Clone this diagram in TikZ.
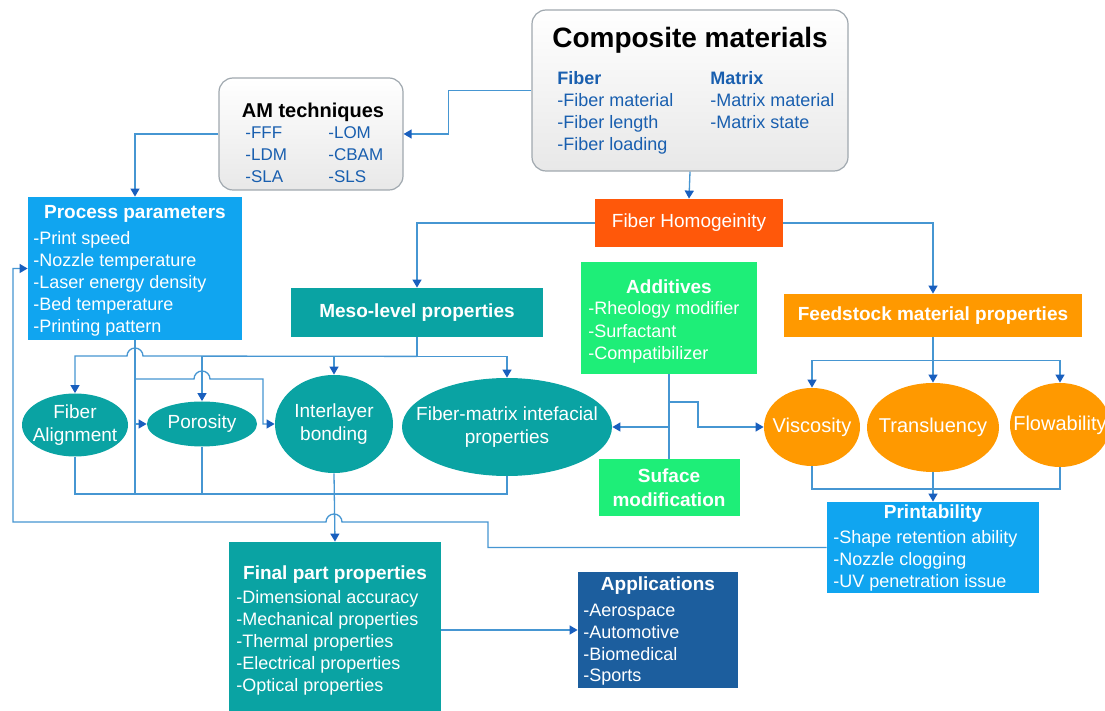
\documentclass[tikz,border=0pt]{standalone}
\usepackage{fontspec}
\setmainfont{Liberation Sans}
\usepackage{xcolor}
\usepackage{tikz}
\usetikzlibrary{arrows.meta,calc,shapes.geometric,positioning}
\definecolor{procblue}{RGB}{16,165,240}
\definecolor{mesoteal}{RGB}{10,163,163}
\definecolor{addgreen}{RGB}{30,238,120}
\definecolor{feedorange}{RGB}{255,153,0}
\definecolor{fhred}{RGB}{255,88,10}
\definecolor{appblue}{RGB}{28,94,158}
\definecolor{linecol}{RGB}{70,150,210}
\definecolor{tipcol}{RGB}{25,95,190}
\definecolor{itemblue}{RGB}{25,95,175}
\definecolor{boxgray}{RGB}{160,168,175}
\tikzstyle{conn}=[draw=linecol,line width=0.65pt]
\tikzstyle{box}=[rectangle,draw=none,inner sep=0pt]
\tikzstyle{graybox}=[rectangle,rounded corners=7pt,draw=boxgray,line width=0.6pt,top color=white,bottom color=gray!18,inner sep=0pt]
\tikzstyle{ell}=[ellipse,draw=none,inner sep=0pt]
\tikzstyle{itm}=[anchor=west,inner sep=0pt,font=\fontsize{9}{11}\selectfont,text height=1.5ex,text depth=.25ex]
\tikzstyle{ttl}=[inner sep=0pt,text=white,font=\bfseries\fontsize{9.5}{11}\selectfont]
\tikzstyle{etxt}=[inner sep=0pt,align=center,text=white,font=\fontsize{9.5}{11.5}\selectfont]

\begin{document}
\begin{tikzpicture}[x=0.5pt,y=-0.5pt,>={Triangle[length=4pt,width=4.5pt,color=tipcol]}]
\useasboundingbox (0,0) rectangle (1105,711);
\fill[white] (0,0) rectangle (1105,711);
% top boxes
\node[graybox,minimum width=158pt,minimum height=80.5pt] (comp) at (690,90.5) {};
\node[inner sep=0pt,font=\bfseries\fontsize{14}{16}\selectfont] (compt) at (690,40) {Composite materials};
\foreach \t [count=\i from 0] in {\textbf{Fiber},-Fiber material,-Fiber length,-Fiber loading}
  \node[itm,text=itemblue] (fib-\i) at (557,78+22*\i) {\t};
\foreach \t [count=\i from 0] in {\textbf{Matrix},-Matrix material,-Matrix state}
  \node[itm,text=itemblue] (mtx-\i) at (710,78+22*\i) {\t};
\node[graybox,minimum width=92pt,minimum height=56pt] (am) at (311,134) {};
\node[inner sep=0pt,font=\bfseries\fontsize{10}{12}\selectfont] (amt) at (313,112) {AM techniques};
\foreach \a/\b [count=\i from 0] in {FFF/LOM,LDM/CBAM,SLA/SLS}{
  \node[itm,text=itemblue,font=\fontsize{8.5}{10}\selectfont] (aml-\i) at (245,132+22*\i) {-\a};
  \node[itm,text=itemblue,font=\fontsize{8.5}{10}\selectfont] (amr-\i) at (328,132+22*\i) {-\b};
}
\node[box,fill=procblue,minimum width=107pt,minimum height=71.5pt] (proc) at (135,268.5) {};
\node[ttl] (proct) at (135,214) {Process parameters};
\foreach \t [count=\i from 0] in {Print speed,Nozzle temperature,Laser energy density,Bed temperature,Printing pattern}
  \node[itm,text=white] (proc-\i) at (33,238+22*\i) {-\t};
\node[box,fill=fhred,minimum width=94pt,minimum height=24pt,text=white,font=\fontsize{9.5}{11}\selectfont] (fh) at (689,223) {Fiber Homogeinity};
% middle row
\node[box,fill=mesoteal,minimum width=126pt,minimum height=24.5pt,text=white,font=\bfseries\fontsize{9.5}{11}\selectfont] (meso) at (417,312.5) {Meso-level properties};
\node[box,fill=addgreen,minimum width=88pt,minimum height=56pt] (add) at (669,318) {};
\node[ttl] (addt) at (669,287) {Additives};
\foreach \t [count=\i from 0] in {Rheology modifier,Surfactant,Compatibilizer}
  \node[itm,text=white] (add-\i) at (588,308+22.5*\i) {-\t};
\node[box,fill=feedorange,minimum width=149pt,minimum height=21.5pt,text=white,font=\bfseries\fontsize{9.5}{11}\selectfont] (feed) at (933,315.5) {Feedstock material properties};
\node[ell,fill=mesoteal,minimum width=53pt,minimum height=31.5pt] (fa) at (75,425) {};
\node[etxt] (fa-t) at (fa) {Fiber\\Alignment};
\node[ell,fill=mesoteal,minimum width=55pt,minimum height=22.5pt] (po) at (202,424) {};
\node[etxt] (po-t) at (po) {Porosity};
\node[ell,fill=mesoteal,minimum width=59pt,minimum height=49pt] (il) at (334,424) {};
\node[etxt] (il-t) at (il) {Interlayer\\bonding};
\node[ell,fill=mesoteal,minimum width=105pt,minimum height=49pt] (fm) at (507,427) {};
\node[etxt] (fm-t) at (fm) {Fiber-matrix intefacial\\properties};
\node[ell,fill=feedorange,minimum width=48pt,minimum height=39pt] (vis) at (812,427) {};
\node[etxt,font=\fontsize{10}{12}\selectfont] (vis-t) at (vis) {Viscosity};
\node[ell,fill=feedorange,minimum width=66pt,minimum height=44.5pt] (tr) at (933,427.5) {};
\node[etxt,font=\fontsize{10}{12}\selectfont] (tr-t) at (tr) {Transluency};
\node[ell,fill=feedorange,minimum width=50pt,minimum height=42pt] (fl) at (1060,425) {};
\node[etxt,font=\fontsize{10}{12}\selectfont] (fl-t) at (fl) {Flowability};
\node[box,fill=addgreen,minimum width=70.5pt,minimum height=28.5pt,align=center,text=white,font=\bfseries\fontsize{9.5}{12}\selectfont] (suf) at (669,487.5) {Suface\\modification};
% bottom boxes
\node[box,fill=procblue,minimum width=106pt,minimum height=45.5pt] (prt) at (933,547.5) {};
\node[ttl] (prtt) at (933,514) {Printability};
\foreach \t [count=\i from 0] in {Shape retention ability,Nozzle clogging,UV penetration issue}
  \node[itm,text=white] (prt-\i) at (833,537+22*\i) {-\t};
\node[box,fill=mesoteal,minimum width=106pt,minimum height=85.5pt] (fin) at (335,627.5) {};
\node[ttl] (fint) at (335,575) {Final part properties};
\foreach \t [count=\i from 0] in {Dimensional accuracy,Mechanical properties,Thermal properties,Electrical properties,Optical properties}
  \node[itm,text=white] (fin-\i) at (236,597+22*\i) {-\t};
\node[box,fill=appblue,minimum width=80pt,minimum height=58pt] (app) at (658,630) {};
\node[ttl] (appt) at (658,586) {Applications};
\foreach \t [count=\i from 0] in {Aerospace,Automotive,Biomedical,Sports}
  \node[itm,text=white] (app-\i) at (583,610+21.7*\i) {-\t};
% connectors
\draw[conn,->] (comp.west) -- ++(-83,0) |- (am.east);
\draw[conn,->] (am.west) -| (proc.north);
\draw[conn,->] (comp.south) -- (fh.north);
\draw[conn,->] (fh.west) -| (meso.north);
\draw[conn,->] (fh.east) -| (feed.north);
\draw[conn] (meso.south) -- ++(0,19) coordinate (mj);
\draw[conn,->] (mj) -| (fm.north);
\draw[conn,->] (mj) -| (il.north);
\draw[conn,->] (mj) -| (po.north);
\draw[conn,->] (mj) -- (143,356) arc[start angle=0,end angle=180,radius=4pt] -| (fa.north);
\coordinate (bus) at (334,494);
\draw[conn] (fa.south) |- (bus);
\draw[conn] (fm.south) |- (bus);
\draw[conn] (po.south) -- (po.south |- bus);
\draw[conn] (proc.south) -- (proc.south |- bus);
\draw[conn,->] (il.south) -- (fin.north);
\draw[conn,->] (proc.south |- po.west) -- (po.west);
\draw[conn,->] (proc.south |- 0,379) -- (194,379) arc[start angle=180,end angle=0,radius=4pt] -- (263,379) |- (il.west);
\draw[conn,->] (prt.west) -| (488,522) -- (342,522) arc[start angle=0,end angle=180,radius=4pt] -- (13,522) |- (proc.west);
\draw[conn] (add.south) -- (suf.north);
\draw[conn,->] (add.south |- 0,402) -- (698,402) |- (vis.west);
\draw[conn,->] (add.south |- fm.east) -- (fm.east);
\draw[conn] (feed.south) -- ++(0,23) coordinate (fj);
\draw[conn,->] (fj) -| (vis.north);
\draw[conn,->] (fj) -- (tr.north);
\draw[conn,->] (fj) -| (fl.north);
\coordinate (pj) at (933,489);
\draw[conn] (vis.south) |- (pj);
\draw[conn] (fl.south) |- (pj);
\draw[conn,->] (tr.south) -- (prt.north);
\draw[conn,->] (fin.east |- app.west) -- (app.west);
\end{tikzpicture}
\end{document}
